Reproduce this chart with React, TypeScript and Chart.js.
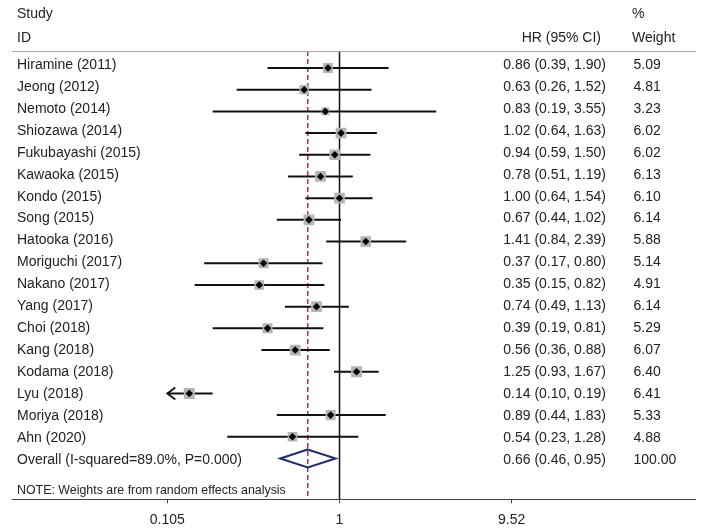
import React, { useEffect, useRef } from "react";
import { Chart, registerables } from "chart.js";

Chart.register(...registerables);

// ---------------- data ----------------
const studies = [
  "Hiramine (2011)",
  "Jeong (2012)",
  "Nemoto (2014)",
  "Shiozawa (2014)",
  "Fukubayashi (2015)",
  "Kawaoka (2015)",
  "Kondo (2015)",
  "Song (2015)",
  "Hatooka (2016)",
  "Moriguchi (2017)",
  "Nakano (2017)",
  "Yang (2017)",
  "Choi (2018)",
  "Kang (2018)",
  "Kodama (2018)",
  "Lyu (2018)",
  "Moriya (2018)",
  "Ahn (2020)",
];
const hr = [0.86, 0.63, 0.83, 1.02, 0.94, 0.78, 1.0, 0.67, 1.41, 0.37, 0.35, 0.74, 0.39, 0.56, 1.25, 0.14, 0.89, 0.54];
const ciLow = [0.39, 0.26, 0.19, 0.64, 0.59, 0.51, 0.64, 0.44, 0.84, 0.17, 0.15, 0.49, 0.19, 0.36, 0.93, 0.1, 0.44, 0.23];
const ciHigh = [1.9, 1.52, 3.55, 1.63, 1.5, 1.19, 1.54, 1.02, 2.39, 0.8, 0.82, 1.13, 0.81, 0.88, 1.67, 0.19, 1.83, 1.28];
const weights = [5.09, 4.81, 3.23, 6.02, 6.02, 6.13, 6.1, 6.14, 5.88, 5.14, 4.91, 6.14, 5.29, 6.07, 6.4, 6.41, 5.33, 4.88];

const overallLabel = "Overall (I-squared=89.0%, P=0.000)";
const overallHR = 0.66;
const overallLow = 0.46;
const overallHigh = 0.95;
const overallWeight = 100.0;

const xTicks = [0.105, 1, 9.52];
const xTickLabels = ["0.105", "1", "9.52"];
const xRangeMin = 0.105;
const xRangeMax = 9.52;

const headerStudy = ["Study", "ID"];
const headerHR = "HR (95% CI)";
const headerWeight = ["%", "Weight"];
const noteText = "NOTE: Weights are from random effects analysis";

// ---------------- layout / style ----------------
const W = 708;
const H = 531;
const FONT = '"Liberation Sans", Arial, Helvetica, sans-serif';
const TEXT = "#222222";
const PLOT_LEFT = 167.3;
const PLOT_RIGHT = 511.7;
const PLOT_TOP = 51;
const AXIS_BOX_H = 31.7;
const ROW_MIN = -0.784;
const ROW_MAX = 19.88;
const LINE_X0 = 12;
const LINE_X1 = 696;
const TEXT_BASE0 = 69;
const TEXT_STEP = 21.92;
const LABEL_X = 17;
const HR_RIGHT = 606;
const HR_HEAD_RIGHT = 601;
const WEIGHT_X = 633.5;
const WEIGHT_HEAD_X = 632;
const BOX_MAX_SIDE = 11;
const DIAMOND_HALF = 0.415;

const nStudies = studies.length;
const overallRow = nStudies;
const maxWeight = Math.max(...weights);

const fmt = (v: number) => v.toFixed(2);

const ciData: { x: number; y: number | null }[] = [];
studies.forEach((_, i) => {
  ciData.push({ x: ciLow[i], y: i }, { x: ciHigh[i], y: i }, { x: ciHigh[i], y: null });
});
const pointData = studies.map((_, i) => ({ x: hr[i], y: i }));
const diamondData = [
  { x: overallLow, y: overallRow },
  { x: overallHR, y: overallRow - DIAMOND_HALF },
  { x: overallHigh, y: overallRow },
  { x: overallHR, y: overallRow + DIAMOND_HALF },
  { x: overallLow, y: overallRow },
  { x: overallHR, y: overallRow - DIAMOND_HALF },
];

const forestPlugin = {
  id: "forest",
  beforeDatasetsDraw(chart: any) {
    const { ctx, chartArea, scales } = chart;
    const xs = scales.x;
    ctx.save();
    const x1 = xs.getPixelForValue(1);
    ctx.strokeStyle = "#111111";
    ctx.lineWidth = 1.5;
    ctx.beginPath();
    ctx.moveTo(x1, chartArea.top);
    ctx.lineTo(x1, chartArea.bottom);
    ctx.stroke();
    const xo = xs.getPixelForValue(overallHR);
    ctx.strokeStyle = "#b8283c";
    ctx.lineWidth = 1.4;
    ctx.setLineDash([5, 3]);
    ctx.beginPath();
    ctx.moveTo(xo, chartArea.top);
    ctx.lineTo(xo, chartArea.bottom);
    ctx.stroke();
    ctx.restore();
  },
  afterDatasetsDraw(chart: any) {
    const { ctx, scales } = chart;
    const xs = scales.x;
    const ys = scales.y;
    ctx.save();
    ctx.strokeStyle = "#111111";
    ctx.lineWidth = 1.8;
    studies.forEach((_, i) => {
      const y = ys.getPixelForValue(i);
      if (ciLow[i] < xRangeMin) {
        const x = xs.getPixelForValue(xRangeMin);
        ctx.beginPath();
        ctx.moveTo(x + 8, y - 6);
        ctx.lineTo(x, y);
        ctx.lineTo(x + 8, y + 6);
        ctx.stroke();
      }
      if (ciHigh[i] > xRangeMax) {
        const x = xs.getPixelForValue(xRangeMax);
        ctx.beginPath();
        ctx.moveTo(x - 8, y - 6);
        ctx.lineTo(x, y);
        ctx.lineTo(x - 8, y + 6);
        ctx.stroke();
      }
    });
    ctx.restore();
  },
  afterDraw(chart: any) {
    const { ctx, chartArea } = chart;
    ctx.save();
    ctx.strokeStyle = "#a8a8a8";
    ctx.lineWidth = 1;
    ctx.beginPath();
    ctx.moveTo(LINE_X0, Math.round(chartArea.top) + 0.5);
    ctx.lineTo(LINE_X1, Math.round(chartArea.top) + 0.5);
    ctx.stroke();
    ctx.strokeStyle = "#444444";
    ctx.beginPath();
    ctx.moveTo(LINE_X0, Math.round(chartArea.bottom) + 0.5);
    ctx.lineTo(LINE_X1, Math.round(chartArea.bottom) + 0.5);
    ctx.stroke();

    const text = (s: string, x: number, y: number, align: CanvasTextAlign, size = 14) => {
      ctx.font = `${size}px ${FONT}`;
      ctx.textAlign = align;
      ctx.textBaseline = "alphabetic";
      ctx.fillStyle = TEXT;
      ctx.fillText(s, x, y);
    };
    text(headerStudy[0], LABEL_X, 17.5, "left");
    text(headerStudy[1], LABEL_X, 42.3, "left");
    text(headerHR, HR_HEAD_RIGHT, 42.3, "right");
    text(headerWeight[0], WEIGHT_HEAD_X, 17.5, "left");
    text(headerWeight[1], WEIGHT_HEAD_X, 42.3, "left");
    studies.forEach((s, i) => {
      const y = TEXT_BASE0 + i * TEXT_STEP;
      text(s, LABEL_X, y, "left");
      text(`${fmt(hr[i])} (${fmt(ciLow[i])}, ${fmt(ciHigh[i])})`, HR_RIGHT, y, "right");
      text(fmt(weights[i]), WEIGHT_X, y, "left");
    });
    const yo = TEXT_BASE0 + overallRow * TEXT_STEP;
    text(overallLabel, LABEL_X, yo, "left");
    text(`${fmt(overallHR)} (${fmt(overallLow)}, ${fmt(overallHigh)})`, HR_RIGHT, yo, "right");
    text(fmt(overallWeight), WEIGHT_X, yo, "left");
    text(noteText, LABEL_X, 493.5, "left", 12.4);
    ctx.restore();
  },
};

export default function App() {
  const ref = useRef<HTMLCanvasElement>(null);
  useEffect(() => {
    const canvas = ref.current;
    if (!canvas) return;
    const chart = new Chart(canvas, {
      type: "scatter",
      data: {
        datasets: [
          {
            data: ciData as any,
            order: 3,
            showLine: true,
            borderColor: "#111111",
            borderWidth: 2,
            pointRadius: 0,
            spanGaps: false,
            clip: 0,
          },
          {
            data: pointData,
            order: 2,
            pointStyle: "rect",
            pointRadius: (c: any) => (BOX_MAX_SIDE * Math.sqrt(weights[c.dataIndex] / maxWeight)) / Math.SQRT2,
            backgroundColor: "#b5b5b5",
            borderWidth: 0,
          },
          {
            data: pointData,
            order: 1,
            pointStyle: "rectRot",
            pointRadius: 3.8,
            backgroundColor: "#000000",
            borderWidth: 0,
          },
          {
            data: diamondData,
            order: 0,
            showLine: true,
            borderColor: "#1f2b6e",
            borderWidth: 2,
            borderJoinStyle: "miter",
            pointRadius: 0,
            fill: false,
          },
        ] as any,
      },
      options: {
        responsive: false,
        animation: false,
        devicePixelRatio: 1,
        events: [],
        layout: {
          padding: { left: PLOT_LEFT, right: W - PLOT_RIGHT, top: PLOT_TOP, bottom: 0 },
        },
        plugins: {
          legend: { display: false },
          tooltip: { enabled: false },
          title: { display: false },
        },
        scales: {
          x: {
            type: "logarithmic",
            min: xRangeMin,
            max: xRangeMax,
            bounds: "data",
            border: { display: false },
            grid: {
              display: true,
              drawOnChartArea: false,
              drawTicks: true,
              tickLength: 4,
              color: "#444444",
              lineWidth: 1,
            },
            ticks: {
              autoSkip: false,
              maxRotation: 0,
              padding: 8,
              color: TEXT,
              font: { family: FONT, size: 14, lineHeight: 1.2 },
              callback: (_v: any, i: number) => xTickLabels[i],
            },
            afterBuildTicks: (scale: any) => {
              scale.ticks = xTicks.map((v) => ({ value: v }));
            },
            afterFit: (scale: any) => {
              scale.height = AXIS_BOX_H;
            },
          },
          y: {
            type: "linear",
            reverse: true,
            min: ROW_MIN,
            max: ROW_MAX,
            display: false,
          },
        },
      } as any,
      plugins: [forestPlugin],
    });
    return () => chart.destroy();
  }, []);
  return (
    <div style={{ position: "fixed", left: 0, top: 0, width: W, height: H, background: "#ffffff" }}>
      <canvas ref={ref} width={W} height={H} style={{ display: "block", width: W, height: H }} />
    </div>
  );
}
